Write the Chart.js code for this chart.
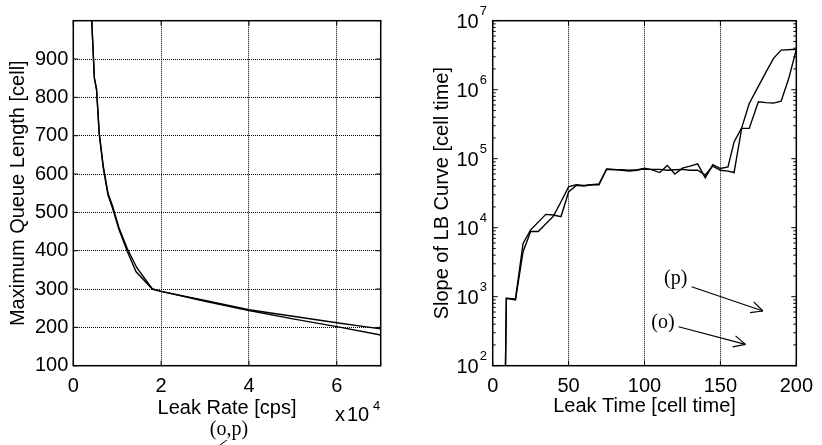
<!DOCTYPE html>
<html>
<head>
<meta charset="utf-8">
<script src="https://cdn.jsdelivr.net/npm/chart.js@4.4.0/dist/chart.umd.min.js"></script>
<style>
  html, body { margin: 0; padding: 0; background: #fff; }
  #wrap { position: relative; width: 822px; height: 445px; }
  canvas { position: absolute; top: 0; }
  #queueChart { left: 0; }
  #slopeChart { left: 411px; }
</style>
</head>
<body>
<div id="wrap">
  <canvas id="queueChart" width="411" height="445"></canvas>
  <canvas id="slopeChart" width="411" height="445"></canvas>
</div>
<script>
// Left panel: max queue length vs leak rate
const rateTicks = [0, 20000, 40000, 60000, 70000];
const rateO = [4200, 4800, 5300, 5900, 6800, 7900, 8900, 10400, 12300, 14300, 18000, 20000, 30000, 40000, 50000, 60000, 70000];
const queueO = [1000, 850, 818, 705, 618, 545, 512, 455, 398, 345, 300, 294, 268, 244, 222, 202, 180];
const rateP = [4200, 4800, 5300, 5900, 6800, 7900, 8900, 10400, 12300, 14500, 18000, 20000, 30000, 40000, 50000, 60000, 70000];
const queueP = [1000, 850, 822, 708, 622, 550, 518, 460, 405, 355, 300, 294, 270, 246, 229, 212, 196];

// Right panel: slope of LB curve vs leak time (log y)
const timeO = [8.4, 9, 15, 20, 25, 30, 40, 45, 50, 55, 60, 65, 70, 75, 80, 85, 90, 95, 100, 105,
  110, 115, 120, 125, 130, 135, 140, 145, 150, 155, 159, 164, 169, 175, 180, 185, 190, 195, 200];
const slopeO = [90, 950, 900, 4500, 8800, 8800, 14700, 23800, 39000, 42000, 41000, 42000, 43000, 70000, 69000, 69000, 68000, 69000, 71000, 70000,
  70000, 68000, 69000, 70000, 68000, 68000, 58000, 78000, 68000, 66000, 63000, 275000, 275000, 670000, 650000, 640000, 680000, 1450000, 3850000];
const timeP = [8.4, 9, 15, 20, 25, 35, 40, 45, 50, 55, 60, 65, 70, 75, 80, 85, 90, 95, 100, 105,
  110, 115, 120, 125, 130, 135, 140, 145, 150, 155, 159, 164, 169, 180, 185, 190, 200];
const slopeP = [90, 950, 930, 5900, 9300, 15600, 15300, 14500, 33000, 41000, 40000, 42000, 42000, 71000, 70000, 68000, 66000, 68000, 73000, 69000,
  63000, 80000, 60000, 73000, 78000, 84000, 53000, 82000, 72000, 76000, 175000, 280000, 630000, 1800000, 2850000, 3750000, 3850000];
const slopeExponents = [2, 3, 4, 5, 6, 7];

// annotations on the right panel, in data coordinates
const noteText = ['(p)', '(o)'];
const noteX = [120.6, 112.1];
const noteY = [1800, 416];
const arrowFromX = [131, 122.4];
const arrowFromY = [1396, 367];
const arrowToX = [178, 166.5];
const arrowToY = [621, 204];

const FONT = "'Liberation Sans', Arial, Helvetica, sans-serif";
const SERIF = "'Liberation Serif', 'Times New Roman', serif";

function pairs(xs, ys) {
  return xs.map((x, i) => ({ x: x, y: ys[i] }));
}

function lineSet(label, xs, ys) {
  return {
    label: label,
    data: pairs(xs, ys),
    borderColor: '#000',
    borderWidth: 1.4,
    pointRadius: 0,
    tension: 0,
    fill: false
  };
}

function seg(ctx, x1, y1, x2, y2) {
  ctx.beginPath();
  ctx.moveTo(x1, y1);
  ctx.lineTo(x2, y2);
  ctx.stroke();
}

// box around the plot plus inward tick marks (matlab style)
const frame = {
  id: 'frame',
  afterDraw(chart) {
    const { ctx, chartArea: a, scales } = chart;
    ctx.save();
    ctx.strokeStyle = '#000';
    ctx.lineWidth = 1;
    scales.x.ticks.forEach(t => {
      const px = scales.x.getPixelForValue(t.value);
      seg(ctx, px, a.bottom, px, a.bottom - 5);
      seg(ctx, px, a.top, px, a.top + 5);
    });
    scales.y.ticks.forEach(t => {
      const py = scales.y.getPixelForValue(t.value);
      seg(ctx, a.left, py, a.left + 5, py);
      seg(ctx, a.right, py, a.right - 5, py);
    });
    if (scales.y.type === 'logarithmic') {
      slopeExponents.slice(0, -1).forEach(e => {
        for (let m = 2; m <= 9; m++) {
          const py = scales.y.getPixelForValue(m * Math.pow(10, e));
          seg(ctx, a.left, py, a.left + 3, py);
          seg(ctx, a.right, py, a.right - 3, py);
        }
      });
    }
    ctx.lineWidth = 1.5;
    ctx.strokeRect(a.left, a.top, a.right - a.left, a.bottom - a.top);
    ctx.restore();
  }
};

const queueNotes = {
  id: 'queueNotes',
  afterDraw(chart) {
    const { ctx } = chart;
    ctx.save();
    ctx.fillStyle = '#000';
    ctx.textBaseline = 'alphabetic';
    ctx.textAlign = 'left';
    ctx.font = '20px ' + FONT;
    ctx.fillText('x', 335, 421);
    ctx.fillText('10', 347, 421);
    ctx.font = '13px ' + FONT;
    ctx.fillText('4', 373, 410);
    ctx.font = '20px ' + SERIF;
    ctx.textAlign = 'center';
    ctx.fillText('(o,p)', 229, 435);
    ctx.strokeStyle = '#000';
    ctx.lineWidth = 1;
    seg(ctx, 220, 445, 227, 440);
    ctx.restore();
  }
};

const powerLabels = {
  id: 'powerLabels',
  afterDraw(chart) {
    const { ctx, chartArea: a, scales: { x, y } } = chart;
    ctx.save();
    ctx.fillStyle = '#000';
    ctx.textBaseline = 'middle';
    slopeExponents.forEach(e => {
      const py = y.getPixelForValue(Math.pow(10, e));
      ctx.font = '20px ' + FONT;
      ctx.textAlign = 'right';
      ctx.fillText('10', a.left - 14, py + 2);
      ctx.font = '13px ' + FONT;
      ctx.textAlign = 'left';
      ctx.fillText(String(e), a.left - 13, py - 9);
    });

    // (p) / (o) arrows
    ctx.strokeStyle = '#000';
    ctx.lineWidth = 1.2;
    ctx.font = '20px ' + SERIF;
    ctx.textAlign = 'center';
    noteText.forEach((txt, i) => {
      ctx.fillText(txt, x.getPixelForValue(noteX[i]), y.getPixelForValue(noteY[i]));
      const x1 = x.getPixelForValue(arrowFromX[i]), y1 = y.getPixelForValue(arrowFromY[i]);
      const x2 = x.getPixelForValue(arrowToX[i]), y2 = y.getPixelForValue(arrowToY[i]);
      seg(ctx, x1, y1, x2, y2);
      const ang = Math.atan2(y2 - y1, x2 - x1);
      [0.45, -0.45].forEach(d => {
        seg(ctx, x2, y2, x2 - 13 * Math.cos(ang + d), y2 - 13 * Math.sin(ang + d));
      });
    });
    ctx.restore();
  }
};

const tickFont = { family: FONT, size: 20 };
const dotted = { display: false, dash: [1, 1] };

// Left chart
new Chart(document.getElementById('queueChart'), {
  type: 'line',
  data: { datasets: [lineSet('(o)', rateO, queueO), lineSet('(p)', rateP, queueP)] },
  options: {
    responsive: false,
    animation: false,
    devicePixelRatio: 1,
    layout: { padding: { top: 20.7, right: 30.3, left: 0, bottom: 0 } },
    plugins: { legend: { display: false }, tooltip: { enabled: false } },
    scales: {
      x: {
        type: 'linear', min: 0, max: 70000,
        afterFit: s => { s.height = 79.3; },
        afterBuildTicks: s => { s.ticks = rateTicks.map(v => ({ value: v })); },
        ticks: {
          padding: 9, color: '#000', font: tickFont, maxRotation: 0, autoSkip: false,
          callback: v => v === 70000 ? '' : v / 1e4
        },
        grid: { color: '#000', lineWidth: 1, drawTicks: false },
        border: dotted,
        title: { display: true, text: 'Leak Rate [cps]', color: '#000', font: tickFont, padding: { top: 0, bottom: 25 } }
      },
      y: {
        type: 'linear', min: 100, max: 1000,
        afterFit: s => { s.width = 73.3; },
        ticks: {
          stepSize: 100, padding: 5, color: '#000', font: tickFont, autoSkip: false,
          callback: v => v === 1000 ? '' : v
        },
        grid: { color: '#000', lineWidth: 1, drawTicks: false },
        border: dotted,
        title: { display: true, text: 'Maximum Queue Length [cell]', color: '#000', font: tickFont, padding: { top: 6, bottom: 0 } }
      }
    }
  },
  plugins: [frame, queueNotes]
});

// Right chart
new Chart(document.getElementById('slopeChart'), {
  type: 'line',
  data: { datasets: [lineSet('(o)', timeO, slopeO), lineSet('(p)', timeP, slopeP)] },
  options: {
    responsive: false,
    animation: false,
    devicePixelRatio: 1,
    layout: { padding: { top: 20.7, right: 21.7, left: 0, bottom: 0 } },
    plugins: { legend: { display: false }, tooltip: { enabled: false } },
    scales: {
      x: {
        type: 'linear', min: 0, max: 200,
        afterFit: s => { s.height = 79.3; },
        ticks: { stepSize: 50, padding: 9, color: '#000', font: tickFont, maxRotation: 0, autoSkip: false },
        grid: { color: '#000', lineWidth: 1, drawTicks: false },
        border: dotted,
        title: { display: true, text: 'Leak Time [cell time]', color: '#000', font: tickFont, padding: { top: 0, bottom: 27 } }
      },
      y: {
        type: 'logarithmic', min: 100, max: 1e7,
        afterFit: s => { s.width = 81.7; },
        afterBuildTicks: s => { s.ticks = slopeExponents.map(e => ({ value: Math.pow(10, e) })); },
        ticks: { display: false },
        grid: { display: false },
        border: { display: false },
        title: { display: true, text: 'Slope of LB Curve [cell time]', color: '#000', font: tickFont, padding: { top: 19.7, bottom: 0 } }
      }
    }
  },
  plugins: [frame, powerLabels]
});
</script>
</body>
</html>
